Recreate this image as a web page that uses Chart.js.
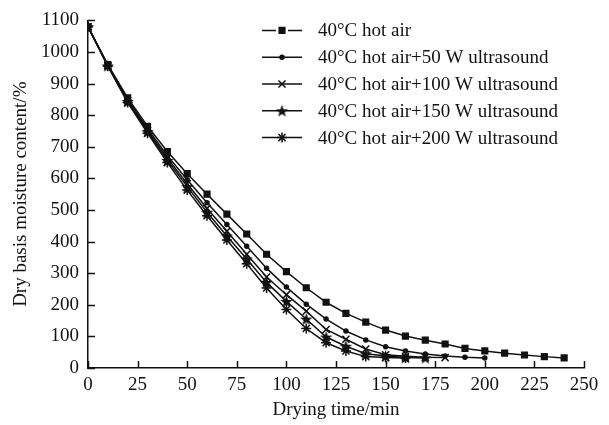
<!DOCTYPE html>
<html>
<head>
<meta charset="utf-8">
<script src="https://cdn.jsdelivr.net/npm/chart.js"></script>
<style>
  html, body { margin: 0; padding: 0; background: #fff; }
  #wrap { width: 609px; height: 425px; }
</style>
</head>
<body>
<div id="wrap"><canvas id="dryChart"></canvas></div>
<script>
// drying time (min), one reading every 10 min
const dryingTime = [0, 10, 20, 30, 40, 50, 60, 70, 80, 90, 100, 110, 120, 130, 140, 150, 160, 170, 180, 190, 200, 210, 220, 230, 240];

// dry basis moisture content (%)
const hotAir   = [1080, 960, 855, 765, 685, 615, 550, 487, 424, 360, 305, 254, 208, 173, 145, 120, 101, 88, 76, 62, 54, 47, 41, 36, 32];
const us50W    = [1080, 958, 850, 757, 672, 596, 523, 454, 385, 316, 256, 202, 155, 117, 89, 67, 54, 44, 38, 34, 32];
const us100W   = [1080, 957, 846, 752, 664, 583, 505, 433, 360, 288, 232, 180, 122, 91, 60, 42, 37, 34, 33];
const us150W   = [1080, 956, 843, 748, 657, 574, 493, 418, 345, 271, 211, 155, 98, 69, 45, 38, 33, 32];
const us200W   = [1080, 955, 840, 743, 650, 563, 482, 405, 330, 253, 185, 125, 80, 54, 36, 33, 32];

const seriesLabels = [
  '40°C hot air',
  '40°C hot air+50 W ultrasound',
  '40°C hot air+100 W ultrasound',
  '40°C hot air+150 W ultrasound',
  '40°C hot air+200 W ultrasound'
];

const xTicks = [0, 25, 50, 75, 100, 125, 150, 175, 200, 225, 250];

const INK = '#111';
const SERIF = '"Liberation Serif", "Times New Roman", serif';

// filled five point star used as marker
function makeStar(size) {
  const c = document.createElement('canvas');
  c.width = size; c.height = size;
  const g = c.getContext('2d');
  const cx = size / 2, cy = size / 2 + 0.6, ro = size / 2, ri = ro * 0.42;
  g.beginPath();
  for (let i = 0; i < 10; i++) {
    const r = i % 2 ? ri : ro;
    const a = -Math.PI / 2 + i * Math.PI / 5;
    g.lineTo(cx + r * Math.cos(a), cy + r * Math.sin(a));
  }
  g.closePath();
  g.fillStyle = INK;
  g.fill();
  return c;
}
const starImg = makeStar(13);

function toPoints(values) {
  return values.map((v, i) => ({x: dryingTime[i], y: v}));
}

const styles = [
  {pointStyle: 'rect', pointRadius: 4},
  {pointStyle: 'circle', pointRadius: 2},
  {pointStyle: 'crossRot', pointRadius: 5},
  {pointStyle: starImg, pointRadius: 6},
  {pointStyle: 'star', pointRadius: 5}
];

const datasets = [hotAir, us50W, us100W, us150W, us200W].map((vals, i) => ({
  label: seriesLabels[i],
  data: toPoints(vals),
  borderColor: INK,
  backgroundColor: INK,
  borderWidth: 1.5,
  pointBorderWidth: 1.5,
  pointStyle: styles[i].pointStyle,
  pointRadius: styles[i].pointRadius,
  tension: 0
}));

// ticks drawn inwards, like the original figure
const innerTicks = {
  id: 'innerTicks',
  afterDraw(chart) {
    const ctx = chart.ctx;
    const xs = chart.scales.x, ys = chart.scales.y;
    ctx.save();
    ctx.strokeStyle = INK;
    ctx.lineWidth = 1.5;
    ctx.beginPath();
    xs.ticks.forEach(t => {
      const px = Math.round(xs.getPixelForValue(t.value)) + 0.5;
      ctx.moveTo(px, ys.bottom);
      ctx.lineTo(px, ys.bottom - 7);
    });
    ys.ticks.forEach(t => {
      const py = Math.round(ys.getPixelForValue(t.value)) + 0.5;
      ctx.moveTo(xs.left, py);
      ctx.lineTo(xs.left + 7, py);
    });
    ctx.stroke();
    ctx.restore();
  }
};

// legend inside the plot, line + marker + label
const insideLegend = {
  id: 'insideLegend',
  afterDraw(chart) {
    const ctx = chart.ctx;
    const area = chart.chartArea;
    const x0 = area.left + 174;
    let y = area.top + 10;
    ctx.save();
    ctx.font = '19px ' + SERIF;
    ctx.textBaseline = 'middle';
    ctx.fillStyle = INK;
    chart.data.datasets.forEach((ds, i) => {
      ctx.strokeStyle = INK;
      ctx.lineWidth = 1.5;
      ctx.beginPath();
      if (i === 0) {
        ctx.moveTo(x0, y); ctx.lineTo(x0 + 14, y);
        ctx.moveTo(x0 + 26, y); ctx.lineTo(x0 + 40, y);
      } else {
        ctx.moveTo(x0, y); ctx.lineTo(x0 + 40, y);
      }
      ctx.stroke();
      Chart.helpers.drawPoint(ctx, {
        pointStyle: ds.pointStyle,
        radius: ds.pointRadius,
        borderWidth: 1.5,
        rotation: 0
      }, x0 + 20, y);
      ctx.fillText(ds.label, x0 + 56, y + 1);
      y += 26.8;
    });
    ctx.restore();
  }
};

new Chart(document.getElementById('dryChart'), {
  type: 'line',
  data: {datasets: datasets},
  options: {
    responsive: true,
    maintainAspectRatio: false,
    animation: false,
    layout: {padding: {top: 5, right: 25, bottom: 2, left: 0}},
    plugins: {
      legend: {display: false},
      tooltip: {enabled: false}
    },
    scales: {
      x: {
        type: 'linear',
        min: 0,
        max: 250,
        afterBuildTicks: s => { s.ticks = xTicks.map(v => ({value: v})); },
        afterFit: s => { s.height = 55; },
        grid: {display: false, drawTicks: false},
        border: {display: true, color: INK, width: 1.5},
        ticks: {color: INK, padding: 6, maxRotation: 0, callback: v => v, font: {family: SERIF, size: 19}},
        title: {display: true, text: 'Drying time/min', color: INK, padding: {top: 0, bottom: 2}, font: {family: SERIF, size: 19}}
      },
      y: {
        min: 0,
        max: 1100,
        afterFit: s => { s.width = 88; },
        grid: {display: false, drawTicks: false},
        border: {display: true, color: INK, width: 1.5},
        ticks: {stepSize: 100, color: INK, padding: 9, callback: v => v, font: {family: SERIF, size: 19}},
        title: {display: true, text: 'Dry basis moisture content/%', color: INK, padding: {top: 10, bottom: 0}, font: {family: SERIF, size: 19}}
      }
    }
  },
  plugins: [innerTicks, insideLegend]
});
</script>
</body>
</html>
